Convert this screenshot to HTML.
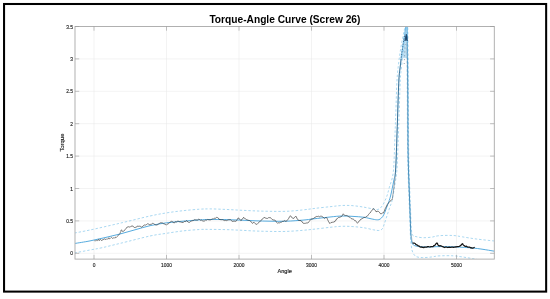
<!DOCTYPE html>
<html><head><meta charset="utf-8"><title>Torque-Angle Curve (Screw 26)</title>
<style>
html,body{margin:0;padding:0;background:#fff;}
body{width:550px;height:299px;overflow:hidden;position:relative;font-family:"Liberation Sans",sans-serif;}
svg{position:absolute;left:0;top:0;}
svg text{font-family:"Liberation Sans",sans-serif;}
</style></head><body>
<svg width="550" height="299" viewBox="0 0 550 299">
<defs><clipPath id="pc"><rect x="75.0" y="26.5" width="419.3" height="232.60000000000002"/></clipPath></defs>
<rect x="4.05" y="4" width="542.1" height="287.6" fill="#fff" stroke="#000" stroke-width="2.05"/>
<g stroke="#e6e6e6" stroke-width="0.5" fill="none"><line x1="94.0" y1="26.5" x2="94.0" y2="259.1"/><line x1="166.5" y1="26.5" x2="166.5" y2="259.1"/><line x1="239.0" y1="26.5" x2="239.0" y2="259.1"/><line x1="311.5" y1="26.5" x2="311.5" y2="259.1"/><line x1="384.0" y1="26.5" x2="384.0" y2="259.1"/><line x1="456.5" y1="26.5" x2="456.5" y2="259.1"/><line x1="75.0" y1="253.3" x2="494.3" y2="253.3"/><line x1="75.0" y1="220.9" x2="494.3" y2="220.9"/><line x1="75.0" y1="188.5" x2="494.3" y2="188.5"/><line x1="75.0" y1="156.1" x2="494.3" y2="156.1"/><line x1="75.0" y1="123.7" x2="494.3" y2="123.7"/><line x1="75.0" y1="91.3" x2="494.3" y2="91.3"/><line x1="75.0" y1="58.9" x2="494.3" y2="58.9"/></g>
<g clip-path="url(#pc)" fill="none" stroke-linejoin="round" stroke-linecap="butt">
<path d="M74.5 233.0 C77.1 232.5 82.4 231.6 90.0 230.0 C97.6 228.4 110.0 225.5 120.0 223.2 C130.0 220.9 142.2 217.7 150.0 216.0 C157.8 214.3 161.0 213.8 166.5 212.9 C172.0 212.0 177.5 211.3 183.0 210.7 C188.5 210.1 195.1 209.5 199.6 209.2 C204.1 208.9 205.8 208.9 210.0 208.9 C214.2 208.9 220.0 209.2 225.0 209.4 C230.0 209.6 234.8 209.9 239.8 210.2 C244.8 210.4 250.0 210.7 255.0 210.9 C260.0 211.1 264.8 211.2 270.0 211.3 C275.2 211.4 281.0 211.5 286.5 211.3 C292.0 211.1 298.4 210.4 303.0 209.9 C307.6 209.4 309.3 209.1 314.0 208.5 C318.7 207.9 326.3 207.1 331.0 206.6 C335.7 206.1 338.3 205.7 342.0 205.5 C345.7 205.3 349.3 205.4 353.0 205.7 C356.7 206.0 360.7 206.6 364.1 207.2 C367.5 207.8 371.2 208.6 373.4 209.0 C375.6 209.4 376.3 209.6 377.4 209.5 C378.5 209.4 379.1 209.2 380.0 208.4 C380.9 207.7 382.0 206.2 382.8 205.0 C383.6 203.8 384.1 202.4 384.8 201.0 C385.5 199.6 386.1 198.5 386.8 196.3 C387.6 194.1 388.2 191.7 389.3 187.6 C390.4 183.5 392.4 179.9 393.3 172.0 C394.2 164.1 394.4 149.8 394.8 140.0 C395.2 130.2 395.4 123.0 395.8 113.0 C396.2 103.0 396.5 88.5 397.0 80.0 C397.5 71.5 398.2 67.3 398.8 62.0 C399.4 56.7 400.1 52.3 400.8 48.0 C401.5 43.7 402.3 39.6 403.0 36.0 C403.7 32.4 404.4 30.8 404.8 26.5 C405.2 22.2 405.1 12.8 405.6 10.0 C406.1 7.2 407.2 7.2 407.6 10.0 C408.0 12.8 407.7 14.3 407.8 26.5 C407.9 38.7 408.2 63.6 408.3 83.0 C408.4 102.4 408.5 128.0 408.6 143.0 C408.8 158.0 408.9 163.0 409.2 173.0 C409.5 183.0 409.9 193.8 410.3 203.0 C410.7 212.2 410.9 222.7 411.3 228.0 C411.7 233.3 411.7 233.6 412.5 235.0 C413.3 236.4 414.3 236.2 416.0 236.6 C417.7 237.0 420.0 237.6 422.6 237.7 C425.2 237.8 428.6 237.5 431.4 237.2 C434.1 236.9 435.5 236.0 439.1 235.7 C442.7 235.4 449.4 235.3 453.2 235.5 C457.0 235.7 458.1 236.2 462.0 236.8 C465.9 237.4 471.0 238.3 476.4 239.0 C481.8 239.7 491.5 240.7 494.5 241.0" stroke="#7cc2ea" stroke-width="0.65" stroke-dasharray="2.4 1.9"/>
<path d="M74.5 252.9 C77.1 252.4 85.4 250.9 90.0 250.0 C94.6 249.1 97.1 248.8 102.1 247.7 C107.1 246.6 112.0 245.3 120.0 243.4 C128.0 241.5 142.2 237.7 150.0 236.0 C157.8 234.3 161.0 234.2 166.5 233.3 C172.0 232.5 177.5 231.5 183.0 230.9 C188.5 230.3 195.1 229.8 199.6 229.5 C204.1 229.2 205.8 229.4 210.0 229.4 C214.2 229.4 220.0 229.5 225.0 229.6 C230.0 229.7 234.8 230.0 239.8 230.2 C244.8 230.4 250.0 230.8 255.0 231.0 C260.0 231.2 264.8 231.3 270.0 231.4 C275.2 231.5 281.0 231.6 286.5 231.4 C292.0 231.2 298.4 230.7 303.0 230.3 C307.6 229.9 309.3 229.7 314.0 229.2 C318.7 228.7 326.3 227.7 331.0 227.2 C335.7 226.7 338.3 226.4 342.0 226.3 C345.7 226.2 349.3 226.3 353.0 226.6 C356.7 226.8 360.7 227.3 364.1 227.8 C367.5 228.3 371.0 229.4 373.4 229.8 C375.8 230.2 377.2 230.6 378.7 230.5 C380.1 230.4 381.2 230.1 382.1 229.1 C383.0 228.1 383.4 226.3 384.1 224.5 C384.8 222.7 385.4 220.4 386.1 218.4 C386.8 216.4 387.4 214.4 388.1 212.4 C388.8 210.4 389.4 208.4 390.1 206.4 C390.8 204.4 391.3 204.0 392.1 200.4 C392.9 196.8 394.0 190.1 394.8 185.0 C395.6 179.9 396.3 177.5 396.9 170.0 C397.5 162.5 397.8 149.5 398.2 140.0 C398.6 130.5 398.8 123.0 399.1 113.0 C399.5 103.0 399.9 87.8 400.3 80.0 C400.7 72.2 401.1 70.7 401.6 66.0 C402.1 61.3 402.7 56.3 403.3 52.0 C403.9 47.7 404.5 43.7 405.0 40.0 C405.5 36.3 406.0 32.5 406.2 30.0 C406.4 27.5 406.4 25.8 406.4 25.0 C406.5 24.2 406.6 24.2 406.6 25.0 C406.7 25.8 406.7 25.8 406.8 30.0 C406.9 34.2 406.9 41.2 407.0 50.0 C407.1 58.8 407.1 67.5 407.2 83.0 C407.3 98.5 407.4 128.0 407.5 143.0 C407.6 158.0 407.8 163.0 408.1 173.0 C408.4 183.0 408.8 193.0 409.2 203.0 C409.6 213.0 410.0 226.0 410.3 233.0 C410.6 240.0 410.8 241.8 411.2 245.0 C411.6 248.2 411.8 250.1 412.6 252.0 C413.4 253.9 414.3 255.6 416.0 256.5 C417.7 257.4 420.0 257.5 422.6 257.6 C425.2 257.7 428.7 257.3 431.4 257.0 C434.1 256.7 435.4 256.1 439.0 255.9 C442.6 255.7 449.4 255.6 453.2 255.8 C457.0 256.0 459.1 256.5 462.0 256.9 C464.9 257.3 467.9 257.8 470.9 258.3 C473.9 258.8 476.1 259.4 480.0 260.0 C483.9 260.6 492.1 261.7 494.5 262.0" stroke="#7cc2ea" stroke-width="0.65" stroke-dasharray="2.4 1.9"/>
<path d="M74.5 243.5 C77.1 243.1 84.9 241.9 90.0 240.9 C95.1 239.9 100.0 238.8 105.0 237.6 C110.0 236.4 115.0 235.3 120.0 234.0 C125.0 232.7 130.0 231.2 135.0 229.8 C140.0 228.4 144.8 226.9 150.0 225.7 C155.2 224.5 161.0 223.6 166.5 222.8 C172.0 222.1 177.5 221.7 183.0 221.2 C188.5 220.7 195.1 220.2 199.6 219.9 C204.1 219.6 205.8 219.6 210.0 219.5 C214.2 219.4 220.0 219.5 225.0 219.6 C230.0 219.7 234.8 219.9 239.8 220.1 C244.8 220.3 250.0 220.6 255.0 220.8 C260.0 221.0 264.8 221.1 270.0 221.2 C275.2 221.3 281.0 221.4 286.5 221.2 C292.0 221.0 298.4 220.5 303.0 220.1 C307.6 219.7 309.5 219.3 314.0 218.8 C318.5 218.3 325.3 217.5 330.0 217.0 C334.7 216.5 338.2 216.1 342.0 216.0 C345.8 215.9 349.3 216.2 353.0 216.4 C356.7 216.6 360.8 216.8 364.1 217.3 C367.4 217.8 370.7 218.8 372.9 219.2 C375.1 219.6 376.2 219.8 377.4 219.8 C378.6 219.8 379.2 219.7 380.1 219.1 C381.0 218.5 382.0 217.5 382.8 216.4 C383.6 215.3 384.1 214.0 384.8 212.4 C385.5 210.8 386.1 208.8 386.8 207.0 C387.5 205.2 388.1 203.7 388.8 201.7 C389.5 199.7 390.0 198.4 390.8 195.0 C391.6 191.6 392.9 185.2 393.7 181.0 C394.5 176.8 395.1 176.8 395.6 170.0 C396.1 163.2 396.5 149.5 396.8 140.0 C397.1 130.5 397.4 123.0 397.7 113.0 C398.0 103.0 398.5 87.8 398.9 80.0 C399.3 72.2 399.8 70.7 400.3 66.0 C400.8 61.3 401.4 56.3 402.0 52.0 C402.6 47.7 403.2 44.2 403.8 40.0 C404.4 35.8 405.4 30.7 405.8 26.5 C406.2 22.3 406.1 16.9 406.3 15.0 C406.5 13.1 406.8 13.1 406.9 15.0 C407.0 16.9 407.0 20.7 407.1 26.5 C407.2 32.3 407.4 40.6 407.5 50.0 C407.6 59.4 407.7 67.5 407.8 83.0 C407.9 98.5 407.9 128.0 408.0 143.0 C408.1 158.0 408.3 163.0 408.6 173.0 C408.9 183.0 409.3 193.0 409.7 203.0 C410.1 213.0 410.5 226.7 410.8 233.0 C411.1 239.3 411.2 239.1 411.6 241.0 C412.0 242.9 412.3 243.7 413.0 244.5 C413.7 245.3 414.0 245.6 416.0 246.0 C418.0 246.4 421.0 246.9 425.0 247.0 C429.0 247.1 435.0 246.6 440.0 246.6 C445.0 246.6 449.2 246.6 455.0 246.9 C460.8 247.2 468.1 247.5 474.7 248.2 C481.3 248.9 491.2 250.7 494.5 251.2" stroke="#4ea6dc" stroke-width="0.95"/>
<path d="M94.4 240.9 L95.0 240.3 L95.6 240.8 L96.2 240.4 L96.8 240.7 L97.4 240.7 L98.0 239.6 L98.6 239.4 L99.2 240.8 L99.8 239.6 L100.4 239.5 L101.0 239.9 L101.6 240.7 L102.2 239.6 L102.8 240.2 L103.4 239.4 L104.1 239.6 L104.7 238.6 L105.3 239.4 L105.9 239.7 L106.5 238.9 L107.1 238.8 L107.7 239.1 L108.3 238.9 L108.9 237.7 L109.6 238.9 L110.2 238.5 L110.8 237.8 L111.4 237.3 L112.0 238.0 L112.6 238.5 L113.1 237.7 L113.7 238.0 L114.2 238.1 L114.8 237.7 L115.3 237.9 L115.9 236.8 L116.4 237.4 L117.0 236.7" stroke="#333" stroke-width="0.55"/>
<path d="M117.0 236.5 L117.7 235.9 L118.4 235.3 L119.1 234.7 L119.8 233.7 L120.1 233.3 L120.4 232.4 L120.8 231.8 L121.1 230.2 L121.4 229.9 L122.0 230.4 L122.5 231.4 L123.1 231.5 L123.8 230.9 L124.6 230.4 L125.3 229.3 L126.0 228.3 L126.7 227.9 L127.3 227.0 L128.0 226.6 L128.7 226.8 L129.5 227.0 L130.2 227.1 L130.9 226.3 L131.7 226.1 L132.4 226.0 L133.1 226.2 L133.8 227.2 L134.5 227.5 L135.2 227.7 L135.9 227.0 L136.6 227.1 L137.3 226.1 L138.0 226.0 L138.8 226.4 L139.7 226.2 L140.5 226.4 L141.3 227.1 L142.2 226.9 L143.1 225.8 L144.0 225.5 L144.8 224.8 L145.7 225.1 L146.5 224.6 L147.3 223.8 L148.2 223.8 L149.1 224.7 L150.0 224.5 L150.8 224.3 L151.7 224.1 L152.5 223.4 L153.3 223.4 L154.1 224.2 L154.9 224.4 L155.8 225.0 L156.6 225.0 L157.5 224.9 L158.4 223.9 L159.2 223.6 L160.1 222.9 L161.0 222.8 L161.8 222.8 L162.6 223.0 L163.4 223.6 L164.1 224.1 L164.9 223.9 L165.7 224.8 L166.5 225.0 L167.2 224.3 L167.9 223.7 L168.6 223.7 L169.4 222.8 L170.1 222.1 L170.8 221.7 L171.5 221.2 L172.2 221.9 L173.0 221.9 L173.7 222.8 L174.5 222.9 L175.3 221.7 L176.0 222.1 L176.8 221.8 L177.6 221.2 L178.5 221.0 L179.4 222.0 L180.3 221.9 L181.2 222.3 L182.1 222.1 L183.0 222.8 L183.8 221.8 L184.7 221.4 L185.6 221.6 L186.4 220.6 L187.1 220.9 L187.9 222.0 L188.6 222.3 L189.4 222.4 L190.1 222.0 L190.9 221.2 L191.7 220.9 L192.5 220.7 L193.2 220.6 L194.0 220.0 L194.9 219.6 L195.9 220.1 L196.8 220.0 L197.7 220.0 L198.7 219.2 L199.6 219.5 L200.4 220.3 L201.3 220.0 L202.2 220.6 L203.0 221.2 L203.9 221.0 L204.7 220.9 L205.6 220.0 L206.4 220.2 L207.3 219.5 L208.2 219.7 L209.1 219.7 L210.0 220.1 L210.8 219.7 L211.7 219.3 L212.5 218.9 L213.3 219.0 L214.1 218.3 L214.9 218.3 L215.8 218.2 L216.6 217.3 L217.4 217.5 L218.3 218.0 L219.2 219.4 L220.0 219.5 L220.9 219.7 L221.9 219.7 L222.8 219.7 L223.7 220.2 L224.6 220.6 L225.6 220.4 L226.5 220.6 L227.3 220.3 L228.2 219.7 L229.0 220.1 L229.8 219.5 L230.5 219.6 L231.3 220.6 L232.0 221.2 L233.0 221.5 L234.0 220.9 L235.0 221.4 L236.0 221.2 L236.5 220.8 L237.1 219.7 L237.6 219.0 L238.1 217.9 L238.8 218.2 L239.5 219.2 L240.2 219.6 L240.9 220.6 L241.4 220.3 L242.0 219.1 L242.5 218.6 L243.1 218.4 L243.6 217.3 L244.3 218.2 L245.0 218.8 L245.7 218.9 L246.4 219.5 L247.2 219.8 L248.1 220.3 L248.9 220.3 L249.7 220.6 L250.4 221.1 L251.1 221.9 L251.7 222.4 L252.4 223.4 L253.2 222.7 L254.1 222.3 L254.8 223.3 L255.5 223.8 L256.2 224.1 L256.9 224.5 L257.6 223.8 L258.2 223.0 L258.9 222.2 L259.5 221.7 L260.2 221.2 L260.8 220.8 L261.5 220.2 L262.1 219.1 L262.7 218.9 L263.4 218.2 L264.0 217.3 L264.9 217.8 L265.9 218.2 L266.8 218.4 L267.6 218.4 L268.4 217.7 L269.2 217.8 L270.0 217.3 L270.7 217.8 L271.5 218.8 L272.2 219.5 L273.1 219.9 L274.1 220.1 L275.0 220.1 L275.5 220.6 L276.1 221.8 L276.6 222.2 L277.2 222.8 L277.7 223.4 L278.5 222.7 L279.4 222.9 L280.2 222.4 L281.0 222.3 L281.8 222.0 L282.6 221.4 L283.5 221.3 L284.3 220.6 L285.0 220.9 L285.8 221.3 L286.5 221.2 L287.1 220.3 L287.6 219.8 L288.2 219.1 L288.7 218.4 L289.3 217.1 L289.8 216.8 L290.4 215.7 L291.1 216.7 L291.8 217.2 L292.5 218.2 L293.2 218.4 L293.9 218.3 L294.5 217.3 L295.2 216.8 L295.9 216.2 L296.3 216.7 L296.8 218.1 L297.2 218.9 L297.7 219.3 L298.1 220.1 L299.0 220.4 L300.0 220.6 L300.9 220.6 L301.6 221.5 L302.2 221.7 L302.9 223.0 L303.6 223.4 L304.5 223.4 L305.4 223.3 L306.2 223.0 L307.1 223.0 L308.0 222.8 L308.6 222.4 L309.1 221.6 L309.6 221.0 L310.2 220.1 L311.1 219.2 L311.9 218.9 L312.8 218.8 L313.6 218.4 L314.4 218.0 L315.2 217.0 L316.1 216.9 L316.9 216.2 L317.6 216.5 L318.4 216.2 L319.1 216.8 L319.8 216.6 L320.6 216.2 L321.3 216.2 L322.1 216.4 L322.9 217.0 L323.6 217.8 L324.4 218.5 L325.1 217.9 L325.9 217.6 L326.6 217.6 L327.0 218.0 L327.4 219.2 L327.8 219.9 L328.2 220.9 L328.6 221.7 L329.0 222.2 L329.4 223.2 L330.2 223.4 L331.0 222.4 L331.9 222.5 L332.7 222.2 L333.5 222.1 L334.3 222.0 L334.9 221.0 L335.4 221.0 L336.0 220.0 L336.5 219.0 L337.1 218.9 L337.6 218.2 L338.4 217.5 L339.2 217.6 L339.9 217.0 L340.7 216.9 L341.5 216.5 L341.9 216.2 L342.4 215.4 L342.8 214.4 L343.2 213.8 L343.7 214.6 L344.3 215.0 L344.8 215.4 L345.7 215.5 L346.7 215.5 L347.6 216.0 L348.5 216.6 L349.4 217.1 L350.3 217.6 L351.1 218.5 L351.9 218.9 L352.6 219.0 L353.4 219.2 L354.2 219.8 L354.9 220.8 L355.5 220.7 L356.2 221.5 L356.8 222.6 L357.5 223.2 L358.0 222.6 L358.6 221.5 L359.1 221.3 L359.7 220.8 L360.2 219.8 L361.0 219.2 L361.9 218.8 L362.7 218.4 L363.5 217.8 L364.3 217.4 L365.1 217.6 L365.9 216.7 L366.7 216.4 L367.4 216.1 L368.0 215.3 L368.7 214.3 L369.4 213.5 L370.0 212.6 L370.5 212.5 L371.1 211.4 L371.7 210.6 L372.3 209.8 L372.8 209.7 L373.4 208.5 L373.9 209.1 L374.4 209.6 L375.0 210.4 L375.5 210.7 L376.0 211.7 L377.0 211.5 L378.0 211.0 L378.7 211.6 L379.4 212.2 L380.0 213.3 L380.7 213.7 L381.6 213.8 L382.5 212.8 L383.4 213.0 L383.7 212.3 L384.1 211.3 L384.4 211.1 L384.7 210.2 L385.1 208.9 L385.4 208.4 L385.8 207.4 L386.2 206.5 L386.6 206.4 L387.0 205.0 L387.4 204.4 L387.9 203.8 L388.5 203.0 L389.0 202.5 L389.6 201.8 L390.1 201.0 L390.8 200.7 L391.6 199.7 L392.3 199.5" stroke="#333" stroke-width="0.65"/>
<path d="M400.2 58 L405.6 26.5 L407.3 26.5 L408 58 Z" fill="#8cc6ea" fill-opacity="0.55" stroke="none"/>
<path d="M392.3 199.5 C392.6 196.9 393.8 188.9 394.3 184.0 C394.9 179.1 395.2 177.3 395.6 170.0 C396.0 162.7 396.5 149.5 396.8 140.0 C397.1 130.5 397.4 123.0 397.7 113.0 C398.0 103.0 398.5 87.8 398.9 80.0 C399.3 72.2 399.9 69.3 400.3 66.0 C400.7 62.7 400.9 61.0 401.0 60.0" stroke="#1c2e40" stroke-width="0.6" stroke-opacity="0.75"/>
<path d="M401 60 L402 52 L403.8 40 L404.6 35" stroke="#1c3e60" stroke-width="0.8" stroke-dasharray="0.8 1.8"/><path d="M404.2 64 L405.2 44" stroke="#1c2e40" stroke-width="0.6" stroke-dasharray="0.7 3.2"/>
<path d="M406.9 42.0 L407.6 83.0 L408.0 143.0 L408.6 173.0 L409.7 203.0 L410.8 233.0 L412.6 243.2" stroke="#1c2e40" stroke-width="0.5" stroke-opacity="0.45"/>
<path d="M404.9 41 L405.5 37 L406.3 34.2 L407.0 36.5 L407.2 41 L406.1 38.8 Z" stroke="#1c456c" stroke-width="0.8" fill="#1c456c"/>
<path d="M412.6 243.2 L413.6 243.1 L414.5 243.2 L415.2 243.5 L415.8 244.4 L416.5 244.8 L417.1 244.9 L417.8 245.6 L418.4 245.9 L419.1 246.0 L419.8 246.7 L420.4 247.1 L421.2 246.9 L422.0 247.3 L422.9 247.2 L423.7 247.6 L424.5 247.1 L425.2 247.1 L426.0 247.0 L426.8 247.2 L427.6 246.6 L428.4 246.6 L429.2 246.8 L430.1 247.0 L430.9 246.7 L431.7 246.5 L432.5 246.5 L433.2 246.5 L433.8 245.5 L434.5 245.5 L435.1 245.1 L435.7 244.1 L436.3 243.4 L436.9 243.0 L437.3 243.3 L437.6 244.1 L438.0 244.8 L438.6 245.6 L439.1 246.0 L440.1 245.7 L441.0 245.8 L441.7 246.2 L442.4 246.6 L443.1 246.7 L443.8 247.2 L444.5 247.5 L445.3 247.2 L446.1 247.1 L446.9 247.2 L447.6 247.5 L448.4 247.3 L449.2 247.2 L450.0 247.3 L450.9 247.3 L451.7 247.2 L452.6 247.1 L453.4 247.4 L454.3 247.2 L455.1 247.2 L455.9 246.7 L456.7 246.8 L457.4 246.6 L458.2 246.7 L459.0 246.5 L459.8 246.2 L460.4 245.6 L460.9 245.5 L461.5 244.4 L462.0 244.1 L462.6 243.7 L463.1 244.6 L463.5 245.2 L464.1 245.5 L464.8 246.2 L465.6 246.4 L466.5 246.2 L467.3 246.8 L468.1 247.1 L469.0 247.1 L469.8 247.2 L470.5 247.8 L471.3 247.7 L472.0 248.2 L472.7 248.1 L473.4 247.8 L474.0 247.6 L474.7 247.3" stroke="#161616" stroke-width="1.25"/>
</g>
<rect x="75.0" y="26.5" width="419.3" height="232.60000000000002" fill="none" stroke="#a8a8a8" stroke-width="0.9"/>
<g stroke="#999" stroke-width="0.6"><line x1="94.0" y1="259.1" x2="94.0" y2="254.9"/><line x1="94.0" y1="26.5" x2="94.0" y2="30.7"/><line x1="166.5" y1="259.1" x2="166.5" y2="254.9"/><line x1="166.5" y1="26.5" x2="166.5" y2="30.7"/><line x1="239.0" y1="259.1" x2="239.0" y2="254.9"/><line x1="239.0" y1="26.5" x2="239.0" y2="30.7"/><line x1="311.5" y1="259.1" x2="311.5" y2="254.9"/><line x1="311.5" y1="26.5" x2="311.5" y2="30.7"/><line x1="384.0" y1="259.1" x2="384.0" y2="254.9"/><line x1="384.0" y1="26.5" x2="384.0" y2="30.7"/><line x1="456.5" y1="259.1" x2="456.5" y2="254.9"/><line x1="456.5" y1="26.5" x2="456.5" y2="30.7"/><line x1="75.0" y1="253.3" x2="79.2" y2="253.3"/><line x1="494.3" y1="253.3" x2="490.1" y2="253.3"/><line x1="75.0" y1="220.9" x2="79.2" y2="220.9"/><line x1="494.3" y1="220.9" x2="490.1" y2="220.9"/><line x1="75.0" y1="188.5" x2="79.2" y2="188.5"/><line x1="494.3" y1="188.5" x2="490.1" y2="188.5"/><line x1="75.0" y1="156.1" x2="79.2" y2="156.1"/><line x1="494.3" y1="156.1" x2="490.1" y2="156.1"/><line x1="75.0" y1="123.7" x2="79.2" y2="123.7"/><line x1="494.3" y1="123.7" x2="490.1" y2="123.7"/><line x1="75.0" y1="91.3" x2="79.2" y2="91.3"/><line x1="494.3" y1="91.3" x2="490.1" y2="91.3"/><line x1="75.0" y1="58.9" x2="79.2" y2="58.9"/><line x1="494.3" y1="58.9" x2="490.1" y2="58.9"/><line x1="75.0" y1="26.5" x2="79.2" y2="26.5"/><line x1="494.3" y1="26.5" x2="490.1" y2="26.5"/></g>
<g font-size="5.6" fill="#222" stroke="#222" stroke-width="0.15"><text transform="translate(94.0 266.5) scale(0.91 1)" text-anchor="middle" font-size="5.4">0</text><text transform="translate(166.5 266.5) scale(0.91 1)" text-anchor="middle" font-size="5.4">1000</text><text transform="translate(239.0 266.5) scale(0.91 1)" text-anchor="middle" font-size="5.4">2000</text><text transform="translate(311.5 266.5) scale(0.91 1)" text-anchor="middle" font-size="5.4">3000</text><text transform="translate(384.0 266.5) scale(0.91 1)" text-anchor="middle" font-size="5.4">4000</text><text transform="translate(456.5 266.5) scale(0.91 1)" text-anchor="middle" font-size="5.4">5000</text><text transform="translate(73.0 255.3) scale(0.91 1)" text-anchor="end" font-size="5.4">0</text><text transform="translate(73.0 222.9) scale(0.91 1)" text-anchor="end" font-size="5.4">0.5</text><text transform="translate(73.0 190.5) scale(0.91 1)" text-anchor="end" font-size="5.4">1</text><text transform="translate(73.0 158.1) scale(0.91 1)" text-anchor="end" font-size="5.4">1.5</text><text transform="translate(73.0 125.7) scale(0.91 1)" text-anchor="end" font-size="5.4">2</text><text transform="translate(73.0 93.3) scale(0.91 1)" text-anchor="end" font-size="5.4">2.5</text><text transform="translate(73.0 60.9) scale(0.91 1)" text-anchor="end" font-size="5.4">3</text><text transform="translate(73.0 28.5) scale(0.91 1)" text-anchor="end" font-size="5.4">3.5</text>
<text x="284.6" y="273.3" text-anchor="middle">Angle</text>
<text transform="translate(64.3 142.6) rotate(-90)" text-anchor="middle" font-size="5.9">Torque</text>
</g>
<text x="284.9" y="23.4" text-anchor="middle" font-size="10.2" font-weight="bold" fill="#000">Torque-Angle Curve (Screw 26)</text>
</svg>
</body></html>
